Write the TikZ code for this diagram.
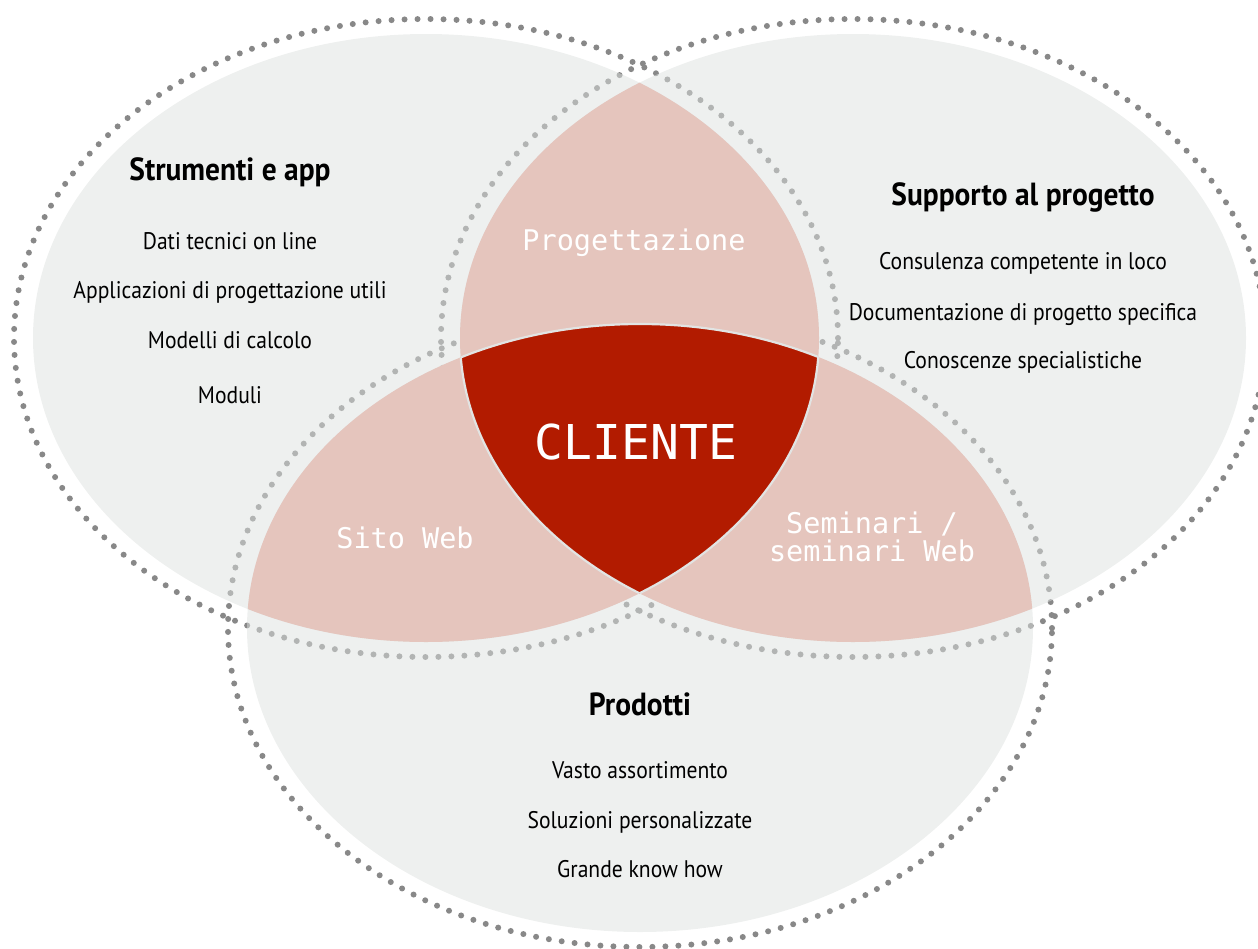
\documentclass[tikz,border=0pt]{standalone}
\usepackage{fontspec}
\newfontfamily\bodyfont{PT Sans}[FakeStretch=0.9]
\newfontfamily\headfont{PT Sans}[FakeStretch=0.92]
\newfontfamily\labelfont{DejaVu Sans Mono}
\definecolor{greyfill}{RGB}{221,225,223}
\definecolor{dotgrey}{RGB}{136,136,136}
\definecolor{lenspink}{RGB}{229,197,189}
\definecolor{clientred}{RGB}{178,27,0}
\definecolor{edgegrey}{RGB}{226,228,227}
\tikzset{
  ellL/.style={insert path={(426,338) ellipse [x radius=393pt, y radius=304pt]}},
  ellR/.style={insert path={(853,338) ellipse [x radius=393pt, y radius=304pt]}},
  ellB/.style={insert path={(640,628) ellipse [x radius=393pt, y radius=304pt]}},
  dotL/.style={insert path={(426,338) ellipse [x radius=412pt, y radius=319pt]}},
  dotR/.style={insert path={(853,338) ellipse [x radius=412pt, y radius=319pt]}},
  dotB/.style={insert path={(640,628) ellipse [x radius=412pt, y radius=319pt]}},
  dotline/.style={draw=dotgrey, line width=6pt, line cap=round, dash pattern=on 0pt off 13pt},
  greyarea/.style={fill=greyfill, fill opacity=0.5},
  heading/.style={anchor=base, font=\headfont\fontsize{32}{36}\selectfont\bfseries, text=black, inner sep=0pt},
  item/.style={anchor=base, font=\bodyfont\fontsize{24}{28}\selectfont, text=black, inner sep=0pt},
  lenslabel/.style={anchor=base, font=\labelfont\fontsize{28.5}{30}\selectfont, text=white, inner sep=0pt},
  clientlabel/.style={anchor=base, font=\labelfont\fontsize{48}{52}\selectfont, text=white, inner sep=0pt},
  rededge/.style={draw=edgegrey, line width=2.2pt}
}
\begin{document}
\begin{tikzpicture}[x=1pt,y=-1pt]
\useasboundingbox (0,0) rectangle (1258,948);
% dotted outlines
\path[dotline, dotL];
\path[dotline, dotR];
\path[dotline, dotB];
% grey areas
\path[greyarea, ellL];
\path[greyarea, ellR];
\path[greyarea, ellB];
% pink lenses
\begin{scope}
  \clip[ellL];
  \fill[lenspink, ellR];
\end{scope}
\begin{scope}
  \clip[ellL];
  \fill[lenspink, ellB];
\end{scope}
\begin{scope}
  \clip[ellR];
  \fill[lenspink, ellB];
\end{scope}
% red centre
\begin{scope}
  \clip[ellL];
  \clip[ellR];
  \fill[clientred, ellB];
  \path[rededge, ellB];
\end{scope}
\begin{scope}
  \clip[ellL];
  \clip[ellB];
  \path[rededge, ellR];
\end{scope}
\begin{scope}
  \clip[ellR];
  \clip[ellB];
  \path[rededge, ellL];
\end{scope}
% texts: left
\node[heading] (hL) at (230,180) {Strumenti e app};
\node[item] (l1) at (230,249) {Dati tecnici on line};
\node[item] (l2) at (230,298) {Applicazioni di progettazione utili};
\node[item] (l3) at (230,348) {Modelli di calcolo};
\node[item] (l4) at (230,403) {Moduli};
% right
\node[heading] (hR) at (1023,205) {Supporto al progetto};
\node[item] (r1) at (1023,269) {Consulenza competente in loco};
\node[item] (r2) at (1023,320) {Documentazione di progetto specifica};
\node[item] (r3) at (1023,368) {Conoscenze specialistiche};
% bottom
\node[heading] (hB) at (640,715) {Prodotti};
\node[item] (b1) at (640,778) {Vasto assortimento};
\node[item] (b2) at (640,828) {Soluzioni personalizzate};
\node[item] (b3) at (640,877) {Grande know how};
% lens labels
\node[lenslabel] (prog) at (634,250) {Progettazione};
\node[lenslabel] (sito) at (405,548) {Sito Web};
\node[lenslabel] (semA) at (872,533) {Seminari /};
\node[lenslabel] (semB) at (872,561) {seminari Web};
\node[clientlabel] (cliente) at (636,459) {CLIENTE};
\end{tikzpicture}
\end{document}
